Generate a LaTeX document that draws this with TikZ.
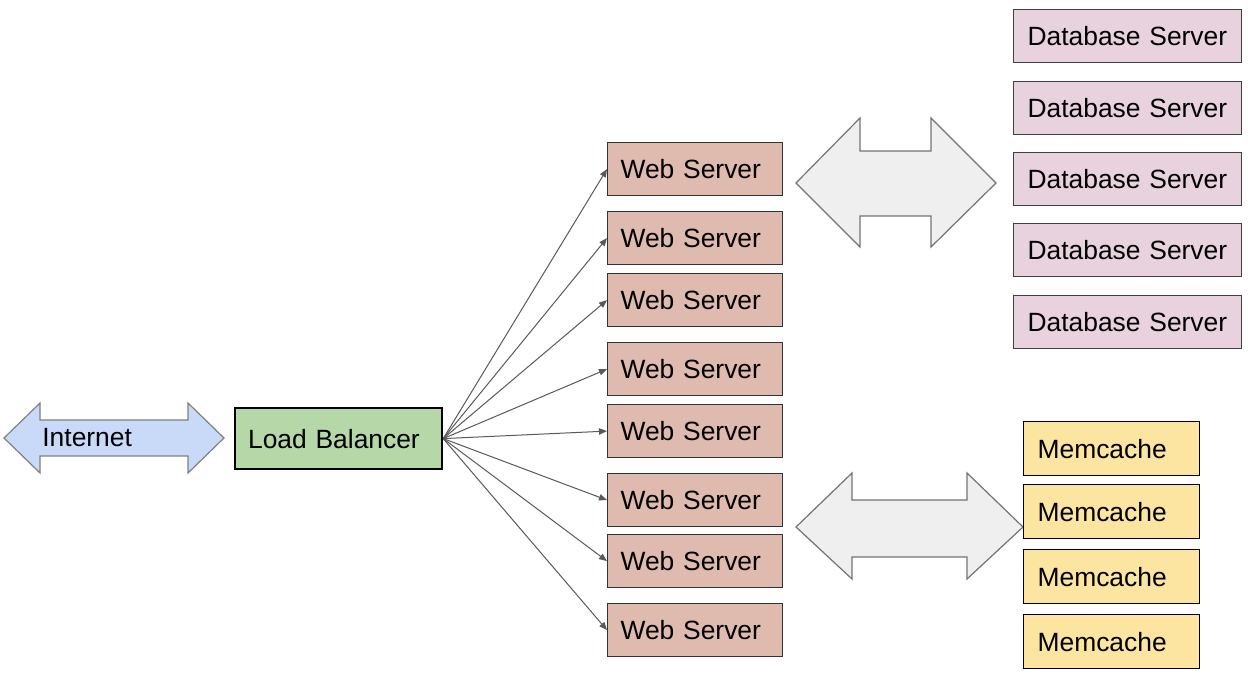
\documentclass[tikz,border=0pt]{standalone}
\usepackage{fontspec}
\setmainfont{Liberation Sans}
\usetikzlibrary{arrows.meta,positioning}

\definecolor{netblue}{HTML}{C9DAF8}
\definecolor{lbgreen}{HTML}{B6D7A8}
\definecolor{webred}{HTML}{DFBAAF}
\definecolor{dbpink}{HTML}{E8D2DD}
\definecolor{mcyellow}{HTML}{FCE5A0}
\definecolor{arrowgray}{HTML}{EFEFEF}
\definecolor{edgegray}{HTML}{595959}

\tikzset{
	box/.style={draw, anchor=north west, align=left, inner xsep=6.5pt,
		font=\fontsize{13.2}{15}\selectfont, line width=0.6pt},
	webbox/.style={box, fill=webred, draw=black!80, text width=74.5pt,
		minimum width=87.5pt, minimum height=26.5pt},
	dbbox/.style={box, fill=dbpink, draw=black!75, inner xsep=7pt, text width=100pt,
		minimum width=114pt, minimum height=26.5pt},
	mcbox/.style={box, fill=mcyellow, draw=black, inner xsep=7pt, text width=74pt,
		minimum width=88pt, minimum height=27pt},
	lbbox/.style={box, fill=lbgreen, line width=1.1pt, text width=90.5pt,
		minimum width=103.5pt, minimum height=30.5pt},
	blockarrow/.style={draw=black!55, fill=arrowgray, line width=0.6pt},
	fan/.style={draw=edgegray, line width=0.5pt, -{Triangle[length=4pt,width=3.2pt]}}
}

\begin{document}
\begin{tikzpicture}[x=0.5pt, y=-0.5pt]
	\useasboundingbox (0,0) rectangle (1248,678);

	% block arrows
	\draw [blockarrow, fill=netblue, draw=black!50] (4,438) -- (40,403) -- (40,420) -- (188,420)
		-- (188,403) -- (224,438) -- (188,473) -- (188,456) -- (40,456) -- (40,473) -- cycle;
	\draw [blockarrow] (796,183) -- (860,118) -- (860,151) -- (931,151) -- (931,118)
		-- (996,183) -- (931,247) -- (931,216) -- (860,216) -- (860,247) -- cycle;
	\draw [blockarrow] (796,527) -- (852,473) -- (852,500) -- (967,500) -- (967,473)
		-- (1023,527) -- (967,579) -- (967,557) -- (852,557) -- (852,579) -- cycle;

	\node (internet) [anchor=west, inner sep=0pt, font=\fontsize{13.2}{15}\selectfont] at (42,438) {Internet};
	\node (lb) [lbbox] at (234,407) {Load Balancer};

	\node (ws1) [webbox] at (607,142) {Web Server};
	\node (ws2) [webbox] at (607,211) {Web Server};
	\node (ws3) [webbox] at (607,273) {Web Server};
	\node (ws4) [webbox] at (607,342) {Web Server};
	\node (ws5) [webbox] at (607,404) {Web Server};
	\node (ws6) [webbox] at (607,473) {Web Server};
	\node (ws7) [webbox] at (607,534) {Web Server};
	\node (ws8) [webbox] at (607,603) {Web Server};

	\node (db1) [dbbox] at (1013,9) {Database Server};
	\node (db2) [dbbox] at (1013,81) {Database Server};
	\node (db3) [dbbox] at (1013,152) {Database Server};
	\node (db4) [dbbox] at (1013,223) {Database Server};
	\node (db5) [dbbox] at (1013,295) {Database Server};

	\node (mc1) [mcbox] at (1023,421) {Memcache};
	\node (mc2) [mcbox] at (1023,484) {Memcache};
	\node (mc3) [mcbox] at (1023,549) {Memcache};
	\node (mc4) [mcbox] at (1023,614) {Memcache};

	\draw [fan] (lb.east) to (ws1.west);
	\draw [fan] (lb.east) to (ws2.west);
	\draw [fan] (lb.east) to (ws3.west);
	\draw [fan] (lb.east) to (ws4.west);
	\draw [fan] (lb.east) to (ws5.west);
	\draw [fan] (lb.east) to (ws6.west);
	\draw [fan] (lb.east) to (ws7.west);
	\draw [fan] (lb.east) to (ws8.west);
\end{tikzpicture}
\end{document}
